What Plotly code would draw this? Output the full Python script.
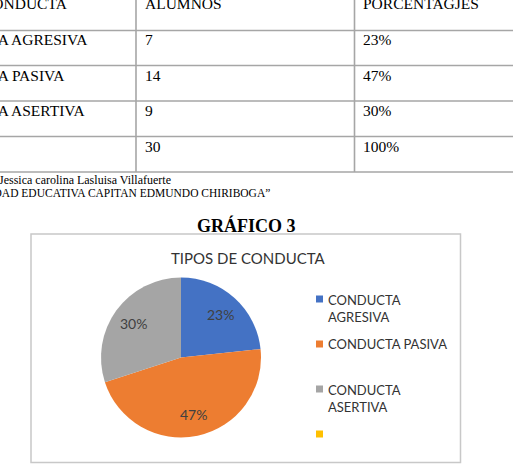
import math
import plotly.graph_objects as go

# ---------------- data ----------------
categories = ["CONDUCTA AGRESIVA", "CONDUCTA PASIVA", "CONDUCTA ASERTIVA", ""]
alumnos = [7, 14, 9, 0]
porcentajes = ["23%", "47%", "30%", ""]
total_label = "TOTAL"
total_alumnos = 30
total_porcentaje = "100%"
header = ["CONDUCTA", "ALUMNOS", "PORCENTAGJES"]
footer_lines = ["Jessica carolina Lasluisa Villafuerte",
                "“UNIDAD EDUCATIVA CAPITAN EDMUNDO CHIRIBOGA”"]
figure_caption = "GRÁFICO 3"
chart_title = "TIPOS DE CONDUCTA"
colors = ["#4472C4", "#ED7D31", "#A5A5A5", "#FFC000"]

# ---------------- layout helpers ----------------
W, H = 513, 466
def px(x):
    return x / W
def py(y):
    return 1 - y / H

SERIF = "Liberation Serif"
SANS = "Lato"
TFS = 15.5

fig = go.Figure()

# pie
cx, cy, r = 181, 357.5, 80
n = 3
fig.add_trace(go.Pie(
    labels=categories[:n], values=alumnos[:n],
    textinfo="none",
    sort=False, direction="clockwise", rotation=0,
    marker=dict(colors=colors[:n], line=dict(width=0)),
    domain=dict(x=[px(cx - r), px(cx + r)], y=[py(cy + r), py(cy - r)]),
    showlegend=False, hoverinfo="label+value+percent",
))

shapes = []
ann = []
line_col = "#a6a6a6"

# percentage labels inside the slices (computed from the values)
tot = sum(alumnos[:n])
cum = 0
for i in range(n):
    mid = (cum + alumnos[i] / 2) / tot * 2 * math.pi
    cum += alumnos[i]
    rho = 0.73 * r
    lx = cx + rho * math.sin(mid)
    ly = cy - rho * math.cos(mid)
    ann.append(dict(x=px(lx), y=py(ly), xref="paper", yref="paper", text=porcentajes[i],
                    showarrow=False, xanchor="center", yanchor="middle",
                    font=dict(family=SANS, size=14, color="#404040")))

# table lines
row_lines = [30.5, 65.5, 101, 136.5, 172]
for yy in row_lines:
    shapes.append(dict(type="line", xref="paper", yref="paper", x0=0, x1=1,
                       y0=py(yy), y1=py(yy), line=dict(color=line_col, width=1.6)))
for xx in [136, 354.5]:
    shapes.append(dict(type="line", xref="paper", yref="paper", x0=px(xx), x1=px(xx),
                       y0=py(-2), y1=py(172), line=dict(color=line_col, width=1.6)))

def text(x, y, s, size, family=SERIF, xanchor="left", color="black", yanchor="middle"):
    ann.append(dict(x=px(x), y=py(y), xref="paper", yref="paper", text=s,
                    showarrow=False, xanchor=xanchor, yanchor=yanchor, align="left",
                    font=dict(family=family, size=size, color=color)))

col_x = [-78, 143, 361]
row_y = [3, 39.5, 75, 110.5, 146.5]
text(70, row_y[0], header[0], TFS, xanchor="right")
text(col_x[1], row_y[0], header[1], TFS)
text(col_x[2], row_y[0], header[2], TFS)
for i in range(3):
    text(col_x[0], row_y[i + 1], categories[i], TFS)
    text(col_x[1], row_y[i + 1], str(alumnos[i]), TFS)
    text(col_x[2], row_y[i + 1], porcentajes[i], TFS)
text(col_x[0], row_y[4], total_label, TFS)
text(col_x[1], row_y[4], str(total_alumnos), TFS)
text(col_x[2], row_y[4], total_porcentaje, TFS)

# footer
text(173, 180, footer_lines[0], 12, xanchor="right")
text(272, 193, footer_lines[1], 11.5, xanchor="right")

# caption
ann.append(dict(x=px(246.5), y=py(225), xref="paper", yref="paper", text="<b>" + figure_caption + "</b>",
                showarrow=False, xanchor="center", yanchor="middle",
                font=dict(family=SERIF, size=18, color="black")))

# chart box
shapes.append(dict(type="rect", xref="paper", yref="paper", x0=px(31), x1=px(460.5),
                   y0=py(462.5), y1=py(234), line=dict(color="#c8c8c8", width=1.5)))
# chart title
ann.append(dict(x=px(247.5), y=py(257.5), xref="paper", yref="paper", text=chart_title,
                showarrow=False, xanchor="center", yanchor="middle",
                font=dict(family=SANS, size=15, color="#333333")))

# legend (manual)
leg_y = [299, 344, 389, 434]
for i, lab in enumerate(categories):
    yy = leg_y[i]
    shapes.append(dict(type="rect", xref="paper", yref="paper",
                       x0=px(316), x1=px(323), y0=py(yy + 3.5), y1=py(yy - 3.5),
                       fillcolor=colors[i], line=dict(width=0)))
    if lab:
        parts = lab.split(" ")
        s = lab if len(lab) <= 15 else parts[0] + "<br>" + " ".join(parts[1:])
        nlines = s.count("<br>") + 1
        ann.append(dict(x=px(326), y=py(yy + (nlines - 1) * 9.1), xref="paper", yref="paper",
                        text=s, showarrow=False, xanchor="left", yanchor="middle", align="left",
                        font=dict(family=SANS, size=13, color="#333333")))

fig.update_layout(width=W, height=H, margin=dict(l=0, r=0, t=0, b=0),
                  paper_bgcolor="white", plot_bgcolor="white",
                  shapes=shapes, annotations=ann)
fig.write_html("out.html")
